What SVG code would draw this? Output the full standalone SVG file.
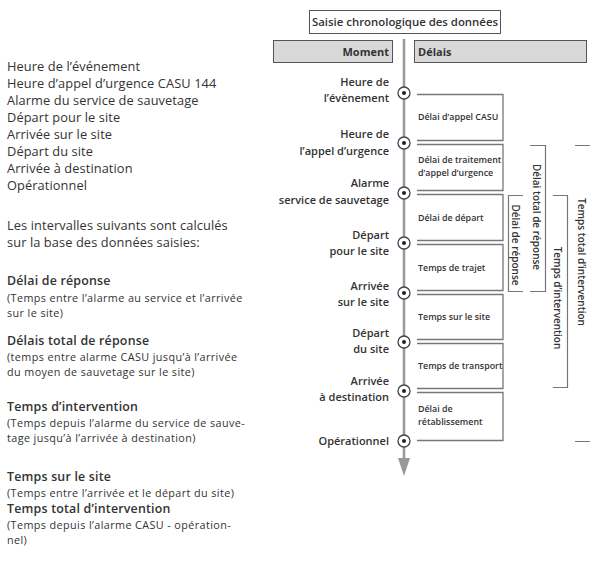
<svg xmlns="http://www.w3.org/2000/svg" width="590" height="563" viewBox="0 0 590 563">
<style>
text{font-family:"Open Sans","Noto Sans","Liberation Sans",sans-serif;fill:#333}
.lt{font-size:12.8px;letter-spacing:0.1px}
.lh{font-size:12.4px;font-weight:600;letter-spacing:0.2px}
.ld{font-size:10.8px;letter-spacing:0.4px}
.ev{font-size:11px;font-weight:600;text-anchor:end}
.bx{font-size:8.9px;font-weight:600}
.br{font-size:10px;font-weight:600;text-anchor:middle}
.box{fill:none;stroke:#777;stroke-width:1.3}
.brk{fill:none;stroke:#777;stroke-width:1.2}
.mk{fill:#fff;stroke:#444;stroke-width:1.3}
</style>
<g id="legend">
<text class="lt" x="7" y="71">Heure de l’événement</text>
<text class="lt" x="7" y="88">Heure d’appel d’urgence CASU 144</text>
<text class="lt" x="7" y="105">Alarme du service de sauvetage</text>
<text class="lt" x="7" y="122">Départ pour le site</text>
<text class="lt" x="7" y="139">Arrivée sur le site</text>
<text class="lt" x="7" y="156">Départ du site</text>
<text class="lt" x="7" y="173">Arrivée à destination</text>
<text class="lt" x="7" y="190">Opérationnel</text>
<text class="lt" x="7" y="230">Les intervalles suivants sont calculés</text>
<text class="lt" x="7" y="247">sur la base des données saisies:</text>
<text class="lh" x="7" y="285">Délai de réponse</text>
<text class="ld" x="7" y="302">(Temps entre l’alarme au service et l’arrivée</text>
<text class="ld" x="7" y="317">sur le site)</text>
<text class="lh" x="7" y="345">Délais total de réponse</text>
<text class="ld" x="7" y="361">(temps entre alarme CASU jusqu’à l’arrivée</text>
<text class="ld" x="7" y="376">du moyen de sauvetage sur le site)</text>
<text class="lh" x="7" y="411">Temps d’intervention</text>
<text class="ld" x="7" y="427">(Temps depuis l’alarme du service de sauve-</text>
<text class="ld" x="7" y="442">tage jusqu’à l’arrivée à destination)</text>
<text class="lh" x="7" y="481">Temps sur le site</text>
<text class="ld" x="7" y="497">(Temps entre l’arrivée et le départ du site)</text>
<text class="lh" x="7" y="513">Temps total d’intervention</text>
<text class="ld" x="7" y="529">(Temps depuis l’alarme CASU - opération-</text>
<text class="ld" x="7" y="544">nel)</text>
</g>
<g id="title">
<rect x="309.5" y="10.5" width="191" height="23" fill="#fff" stroke="#555" stroke-width="1"/>
<text x="405" y="26" text-anchor="middle" style="font-size:11.4px;font-weight:600">Saisie chronologique des données</text>
</g>
<g id="header-moment">
<rect x="273.5" y="40.5" width="119" height="22" fill="#d9d9d9" stroke="#555" stroke-width="1"/>
<text x="389" y="56" text-anchor="end" style="font-size:11px;font-weight:700">Moment</text>
</g>
<g id="header-delais">
<rect x="414.5" y="40.5" width="172" height="22" fill="#d9d9d9" stroke="#555" stroke-width="1"/>
<text x="418" y="56" style="font-size:11px;font-weight:700">Délais</text>
</g>
<g id="connectors">
<line x1="404" y1="39" x2="404" y2="462" stroke="#999" stroke-width="2.5"/>
<polygon points="398,458 410,458 404,476" fill="#999"/>
</g>
<g id="ev1"><text class="ev" x="389" y="86">Heure de</text><text class="ev" x="389" y="102">l’évènement</text><circle class="mk" cx="404" cy="93" r="6"/><circle cx="404" cy="93" r="2" fill="#222"/></g>
<g id="ev2"><text class="ev" x="389" y="138">Heure de</text><text class="ev" x="389" y="155">l’appel d’urgence</text><circle class="mk" cx="404" cy="143" r="6"/><circle cx="404" cy="143" r="2" fill="#222"/></g>
<g id="ev3"><text class="ev" x="389" y="187">Alarme</text><text class="ev" x="389" y="204">service de sauvetage</text><circle class="mk" cx="404" cy="193" r="6"/><circle cx="404" cy="193" r="2" fill="#222"/></g>
<g id="ev4"><text class="ev" x="389" y="239">Départ</text><text class="ev" x="389" y="255">pour le site</text><circle class="mk" cx="404" cy="243" r="6"/><circle cx="404" cy="243" r="2" fill="#222"/></g>
<g id="ev5"><text class="ev" x="389" y="290">Arrivée</text><text class="ev" x="389" y="306">sur le site</text><circle class="mk" cx="404" cy="293" r="6"/><circle cx="404" cy="293" r="2" fill="#222"/></g>
<g id="ev6"><text class="ev" x="389" y="337">Départ</text><text class="ev" x="389" y="353">du site</text><circle class="mk" cx="404" cy="342" r="6"/><circle cx="404" cy="342" r="2" fill="#222"/></g>
<g id="ev7"><text class="ev" x="389" y="385">Arrivée</text><text class="ev" x="389" y="401">à destination</text><circle class="mk" cx="404" cy="391" r="6"/><circle cx="404" cy="391" r="2" fill="#222"/></g>
<g id="ev8"><text class="ev" x="389" y="445">Opérationnel</text><circle class="mk" cx="404" cy="441" r="6"/><circle cx="404" cy="441" r="2" fill="#222"/></g>
<g id="d1"><path class="box" d="M417,94.5 H503 V140.5 H417"/><text class="bx" x="418" y="120">Délai d’appel CASU</text></g>
<g id="d2"><path class="box" d="M417,144.5 H503 V190.5 H417"/><text class="bx" x="418" y="163">Délai de traitement</text><text class="bx" x="418" y="176">d’appel d’urgence</text></g>
<g id="d3"><path class="box" d="M417,194.5 H503 V240.5 H417"/><text class="bx" x="418" y="221">Délai de départ</text></g>
<g id="d4"><path class="box" d="M417,244.5 H503 V290.5 H417"/><text class="bx" x="418" y="271">Temps de trajet</text></g>
<g id="d5"><path class="box" d="M417,294.5 H503 V339.5 H417"/><text class="bx" x="418" y="320">Temps sur le site</text></g>
<g id="d6"><path class="box" d="M417,343.5 H503 V388.5 H417"/><text class="bx" x="418" y="369">Temps de transport</text></g>
<g id="d7"><path class="box" d="M417,392.5 H503 V440.5 H417"/><text class="bx" x="418" y="412">Délai de</text><text class="bx" x="418" y="425">rétablissement</text></g>
<g id="b1"><path class="brk" d="M523,195.5 H508.5 V291.5 H523"/><text class="br" transform="translate(512,245) rotate(90)">Délai de réponse</text></g>
<g id="b2"><path class="brk" d="M530,145.5 H545.5 V291.5 H530"/><text class="br" transform="translate(533,217) rotate(90)">Délai total de réponse</text></g>
<g id="b3"><path class="brk" d="M553,195.5 H567.5 V387.5 H553"/><text class="br" transform="translate(554,298) rotate(90)">Temps d’intervention</text></g>
<g id="b4"><path class="brk" d="M575,145.5 H590 M575,441.5 H590"/><text class="br" transform="translate(578,262) rotate(90)">Temps total d’intervention</text></g>
</svg>
